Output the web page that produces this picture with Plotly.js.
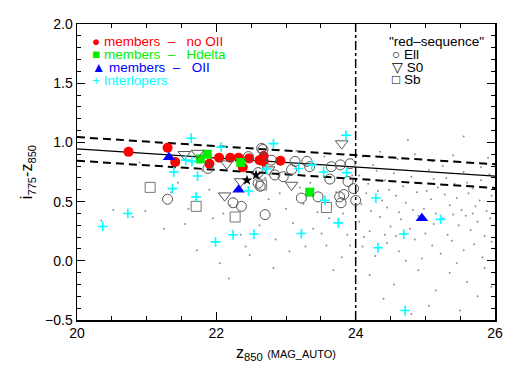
<!DOCTYPE html>
<html><head><meta charset="utf-8">
<script src="https://cdn.plot.ly/plotly-3.0.1.min.js"></script>
<style>html,body{margin:0;padding:0;background:#fff}#plot{width:518px;height:370px}</style>
</head><body><div id="plot"></div>
<script>
// Fit lines of the red sequence
const lineX = [20, 26];
const fitY = [0.945, 0.715];
const upperY = [1.045, 0.815];
const lowerY = [0.845, 0.615];
const cutX = [24, 24];
const cutY = [-0.5, 2.0];

// members - no OII
const redX = [20.74, 21.30, 21.41, 21.90, 22.04, 22.20, 22.32, 22.38, 22.47, 22.62, 22.68, 22.68, 22.92];
const redY = [0.92, 0.955, 0.835, 0.82, 0.87, 0.87, 0.87, 0.79, 0.865, 0.85, 0.885, 0.84, 0.845];
// members - Hdelta
const greenX = [21.77, 21.87, 22.35, 23.34];
const greenY = [0.86, 0.90, 0.83, 0.58];
// members - OII
const blueX = [21.32, 22.32, 24.95];
const blueY = [0.875, 0.60, 0.36];
// Interlopers
const cyanX = [20.37, 20.73, 21.37, 21.39, 21.56, 21.65, 21.64, 21.71, 21.73, 21.99, 22.07, 22.24, 22.46, 22.54, 22.72, 22.82, 23.18, 23.22, 23.37, 23.54, 23.56, 23.75, 23.86, 23.87, 24.29, 24.32, 24.69, 24.71, 25.22];
const cyanY = [0.29, 0.40, 0.61, 0.75, 0.85, 0.84, 1.035, 0.54, 0.716, 0.16, 0.96, 0.22, 0.59, 0.226, 0.775, 0.99, 0.78, 0.23, 0.81, 0.75, 0.51, 0.32, 1.06, 0.745, 0.53, 0.11, 0.226, -0.42, 0.35];
// red-sequence morphologies
const ellX = [21.30, 21.88, 22.46, 22.24, 22.36, 22.60, 22.63, 22.65, 22.60, 22.67, 22.79, 22.84, 22.96, 23.08, 23.13, 23.30, 23.34, 22.70, 23.22, 23.46, 23.63, 23.65, 23.78, 23.92, 23.89, 23.97, 23.83, 23.79, 24.00, 23.77];
const ellY = [0.52, 0.78, 0.88, 0.49, 0.46, 0.655, 0.63, 0.95, 0.745, 0.94, 0.85, 0.725, 0.71, 0.77, 0.84, 0.84, 0.795, 0.39, 0.53, 0.54, 0.69, 0.795, 0.81, 0.82, 0.67, 0.61, 0.56, 0.49, 0.51, 0.54];
const s0X = [21.54, 21.73, 22.15, 22.12, 22.35, 22.75, 23.08, 23.80];
const s0Y = [0.90, 0.91, 0.82, 0.55, 0.67, 0.77, 0.64, 0.99];
const sbX = [21.05, 21.71, 22.27, 22.65, 23.58];
const sbY = [0.62, 0.46, 0.37, 0.64, 0.45];
// other
const starX = [22.44, 22.57];
const starY = [0.68, 0.725];
// field galaxies (small dots)
const bgX = [20.35,20.52,20.80,20.98,21.25,21.35,21.55,21.60,21.72,21.90,22.05,22.10,22.18,21.95,22.20,22.35,22.42,22.48,21.45,20.90,22.30,21.80,
22.62,22.75,22.91,22.85,23.00,23.10,23.20,23.28,23.39,23.45,23.51,23.58,23.62,23.68,23.72,23.82,23.88,23.92,23.95,22.82,23.05,23.35,22.95,23.15,23.55,23.80,22.70,23.25,
24.10,24.35,24.60,24.85,25.10,25.40,25.65,25.90,24.25,25.25,25.80,24.75,25.55,
24.05,24.18,24.30,24.42,24.55,24.68,24.80,24.93,25.05,25.18,25.30,25.42,25.55,25.68,25.80,25.92,24.48,25.12,25.60,25.97,
24.08,24.15,24.22,24.38,24.45,24.58,24.62,24.72,24.88,24.98,25.08,25.15,25.28,25.35,25.45,25.52,25.62,25.72,25.78,25.88,25.95,24.32,25.02,25.68,24.82,
24.05,24.20,24.35,24.50,24.58,24.65,24.78,24.90,25.00,25.12,25.25,25.32,25.48,25.58,25.65,25.75,25.85,25.93,24.42,25.40,24.12,
24.10,24.28,24.45,24.62,24.85,24.95,25.10,25.22,25.38,25.55,25.70,25.82,25.95,24.72,25.45,
24.20,24.55,24.90,25.15,25.35,25.60,25.85,24.40,25.05,25.75,25.50,24.80,25.95];
const bgY = [0.34,0.43,0.37,0.42,0.27,0.58,0.31,0.44,0.09,0.60,-0.02,0.40,-0.15,0.36,0.47,0.22,0.12,0.05,0.66,0.83,0.96,0.76,
0.30,0.52,0.57,0.18,0.44,0.32,0.62,0.12,0.27,0.41,0.23,0.13,0.36,-0.08,0.58,0.40,0.22,0.13,0.72,-0.06,0.08,0.66,0.85,0.93,0.88,0.03,0.70,0.48,
0.88,0.92,0.86,0.90,0.84,0.89,0.83,0.87,0.81,0.80,0.79,1.02,1.05,
0.72,0.65,0.76,0.68,0.74,0.63,0.71,0.66,0.77,0.62,0.70,0.65,0.75,0.61,0.68,0.73,0.60,0.69,0.66,0.62,
0.48,0.57,0.42,0.51,0.45,0.55,0.41,0.49,0.58,0.44,0.52,0.40,0.56,0.47,0.53,0.43,0.57,0.46,0.51,0.42,0.55,0.59,0.59,0.40,0.43,
0.33,0.25,0.37,0.29,0.21,0.35,0.27,0.38,0.23,0.31,0.36,0.22,0.30,0.38,0.26,0.33,0.21,0.36,0.22,0.39,0.20,
0.12,0.04,0.15,0.08,0.18,0.02,0.13,0.06,0.17,0.09,0.14,0.03,0.16,0.00,-0.02,
-0.12,-0.20,-0.08,-0.25,-0.10,-0.18,-0.06,-0.32,-0.38,-0.30,-0.42,-0.45,-0.22];

const F = '"Liberation Sans", Arial, Helvetica, sans-serif';
const traces = [
  {x: bgX, y: bgY, mode: 'markers', marker: {size: 2, color: '#909090'}},
  {x: lineX, y: fitY, mode: 'lines', line: {color: '#000', width: 1.2}},
  {x: lineX, y: upperY, mode: 'lines', line: {color: '#000', width: 2, dash: '8px,5px'}},
  {x: lineX, y: lowerY, mode: 'lines', line: {color: '#000', width: 2, dash: '8px,5px'}},
  {x: cutX, y: cutY, mode: 'lines', line: {color: '#000', width: 1.5, dash: 'dashdot'}},
  {x: redX, y: redY, mode: 'markers', marker: {symbol: 'circle', size: 10, color: '#ff0000'}},
  {x: greenX, y: greenY, mode: 'markers', marker: {symbol: 'square', size: 9, color: '#00ee00'}},
  {x: blueX, y: blueY, mode: 'markers', marker: {symbol: 'triangle-up', size: 11, color: '#0000ff'}},
  {x: ellX, y: ellY, mode: 'markers', marker: {symbol: 'circle-open', size: 10, color: '#555', line: {width: 1}}},
  {x: s0X, y: s0Y, mode: 'markers', marker: {symbol: 'triangle-down-open', size: 11, color: '#555', line: {width: 1}}},
  {x: sbX, y: sbY, mode: 'markers', marker: {symbol: 'square-open', size: 10, color: '#777', line: {width: 1}}},
  {x: cyanX, y: cyanY, mode: 'markers', marker: {symbol: 'cross-thin-open', size: 7, color: '#00ffff', line: {width: 1.6, color: '#00ffff'}}},
  {x: starX, y: starY, mode: 'markers', marker: {symbol: 'star', size: 8, color: '#000'}}
];

function ann(text, x, y, color) {
  return {text: text, x: x, y: y, xref: 'paper', yref: 'paper', xanchor: 'left', yanchor: 'middle',
          showarrow: false, borderpad: 0, font: {family: F, size: 13.5, color: color}};
}
const NB = '\u00a0';
const annotations = [
  ann('\u25cf' + NB + 'members' + NB + NB + '\u2013' + NB + NB + NB + 'no' + NB + 'OII', 0.034, 0.941, '#ff0000'),
  ann('\u25a0' + NB + 'members' + NB + NB + '\u2013' + NB + NB + NB + 'Hdelta', 0.034, 0.897, '#00ee00'),
  ann('\u25b2' + NB + 'members' + NB + NB + '\u2013' + NB + NB + NB + 'OII', 0.034, 0.853, '#0000ff'),
  ann('+' + NB + 'Interlopers', 0.034, 0.809, '#00ffff'),
  ann('"red\u2013sequence"', 0.744, 0.941, '#000'),
  ann('\u25cb' + NB + 'Ell', 0.752, 0.897, '#000'),
  ann('\u25bd' + NB + 'S0', 0.752, 0.853, '#000'),
  ann('\u25a1' + NB + 'Sb', 0.752, 0.811, '#000')
];

const layout = {
  width: 518, height: 370,
  margin: {l: 77, r: 23, t: 24, b: 50},
  showlegend: false,
  paper_bgcolor: '#fff', plot_bgcolor: '#fff',
  font: {family: F, size: 14, color: '#000'},
  xaxis: {range: [20, 26], dtick: 2, tick0: 20, ticks: 'inside', ticklen: 8, tickwidth: 1, tickcolor: '#000',
          showline: true, linecolor: '#000', linewidth: 1.5, mirror: 'allticks', showgrid: false, zeroline: false,
          tickfont: {size: 14},
          minor: {dtick: 0.5, ticks: 'inside', ticklen: 4, tickcolor: '#000', showgrid: false},
          title: {text: 'z<sub>850</sub> <span style="font-size:11px">(MAG_AUTO)</span>', font: {size: 16}, standoff: 6}},
  yaxis: {range: [-0.5, 2.0], dtick: 0.5, tick0: 0, tickformat: '.1f', ticks: 'inside', ticklen: 8, tickwidth: 1, tickcolor: '#000',
          showline: true, linecolor: '#000', linewidth: 1.5, mirror: 'allticks', showgrid: false, zeroline: false,
          tickfont: {size: 14},
          minor: {dtick: 0.1, ticks: 'inside', ticklen: 4, tickcolor: '#000', showgrid: false},
          title: {text: 'i<sub>775</sub>-z<sub>850</sub>', font: {size: 16}, standoff: 8}},
  annotations: annotations
};
Plotly.newPlot('plot', traces, layout, {staticPlot: true, displayModeBar: false});
</script></body></html>
